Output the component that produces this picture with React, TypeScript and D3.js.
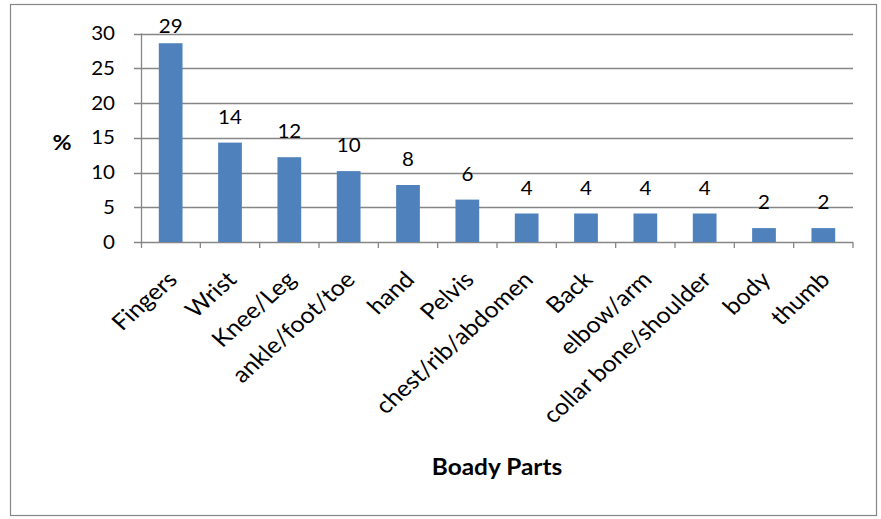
import React from "react";
import * as d3 from "d3";

const categories = ["Fingers", "Wrist", "Knee/Leg", "ankle/foot/toe", "hand", "Pelvis", "chest/rib/abdomen", "Back", "elbow/arm", "collar bone/shoulder", "body", "thumb"];
const values = [28.6, 14.3, 12.2, 10.2, 8.2, 6.1, 4.1, 4.1, 4.1, 4.1, 2.0, 2.0];
const yTicks = [0, 5, 10, 15, 20, 25, 30];

const W = 881, H = 519;
const FONT = "Lato, 'Open Sans', sans-serif";
const SX = 1.11;

export default function App() {
  const x = d3.scaleBand<string>().domain(categories).range([141, 853]).paddingInner(0.6).paddingOuter(0.3);
  const xb = d3.scaleBand<string>().domain(categories).range([141, 853]);
  const y = d3.scaleLinear().domain([0, 30]).range([242, 33.5]);
  return (
    <svg width={W} height={H} style={{ position: "absolute", left: 0, top: 0 }}>
      <rect x={10.5} y={4.5} width={866} height={511} fill="#fff" stroke="#878787" strokeWidth={1.2} />
      {yTicks.map(t => (
        <g key={t}>
          <line x1={134} x2={853} y1={Math.round(y(t)) + 0.5} y2={Math.round(y(t)) + 0.5} stroke="#868686" strokeWidth={1.3} />
          <text transform={`translate(${115},${y(t) + 6.5}) scale(${SX},1)`} textAnchor="end" fontFamily={FONT} fontSize={18.5} fill="#000">{t}</text>
        </g>
      ))}
      <line x1={141.5} x2={141.5} y1={y(30)} y2={y(0)} stroke="#868686" strokeWidth={1.3} />
      {categories.map((c, i) => (
        <line key={"t" + i} x1={(xb(c) as number) + xb.bandwidth()} x2={(xb(c) as number) + xb.bandwidth()} y1={242} y2={248} stroke="#868686" strokeWidth={1.3} />
      ))}
      <line x1={141.5} x2={141.5} y1={242} y2={248} stroke="#868686" strokeWidth={1.3} />
      {categories.map((c, i) => (
        <rect key={c} x={x(c)} y={y(values[i])} width={x.bandwidth()} height={y(0) - y(values[i])} fill="#4F81BD" />
      ))}
      {categories.map((c, i) => (
        <text key={"l" + c} transform={`translate(${(x(c) as number) + x.bandwidth() / 2},${Math.max(y(values[i]) - 19, 33)}) scale(${SX},1)`} textAnchor="middle" fontFamily={FONT} fontSize={18.5} fill="#000">{Math.round(values[i])}</text>
      ))}
      {categories.map((c, i) => {
        const cx = (xb(c) as number) + xb.bandwidth() / 2 + 8;
        return (
          <text key={"c" + c} transform={`translate(${cx},281) scale(${SX},1) rotate(-45)`} textAnchor="end" fontFamily={FONT} fontSize={22.5} fill="#000">{c}</text>
        );
      })}
      <text transform={`translate(62,150) scale(${SX},1)`} textAnchor="middle" fontFamily={FONT} fontSize={21} fontWeight="bold">%</text>
      <text transform={`translate(497,475) scale(${SX},1)`} textAnchor="middle" fontFamily={FONT} fontSize={22} fontWeight="bold">Boady Parts</text>
    </svg>
  );
}
